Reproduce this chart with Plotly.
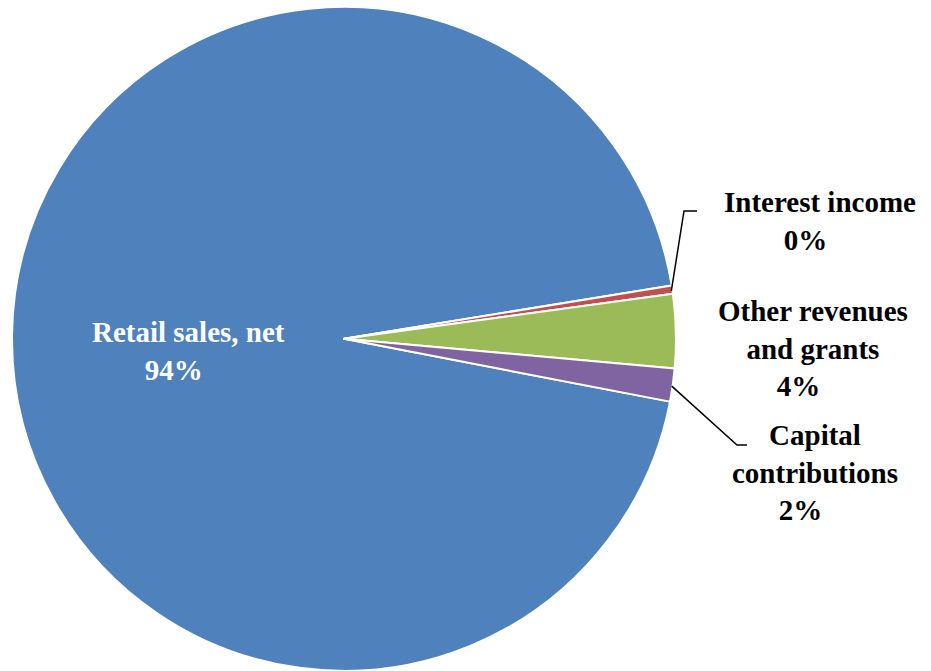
import math
import plotly.graph_objects as go

labels = ["Retail sales, net", "Interest income", "Other revenues and grants", "Capital contributions"]
label_text = ["Retail sales, net", "Interest income", "Other revenues<br>and grants", "Capital<br>contributions"]
values = [94.4, 0.4, 3.6, 1.6]
colors = ["#4F81BD", "#C0504D", "#9BBB59", "#8064A2"]

W, H = 931, 671
CX, CY, R = 344, 340, 331
ROT = 100.9  # start of first slice, degrees clockwise from 12 o'clock

fig = go.Figure(go.Pie(
    labels=labels, values=values, sort=False, direction="clockwise",
    rotation=ROT, marker=dict(colors=colors, line=dict(color="white", width=2)),
    textinfo="none", hoverinfo="label+percent", showlegend=False,
    domain=dict(x=[(CX - R - 1) / W, (CX + R + 1) / W], y=[0, 0.99]),
))

total = sum(values)
pcts = [round(v / total * 100) for v in values]

# label positions (pixels): center x, center y, text colour
label_pos = [(188, 351, "white"), (820, 221, "black"), (813, 348, "black"), (815, 472, "black")]
for i, (lx, ly, col) in enumerate(label_pos):
    fig.add_annotation(
        x=lx / W, y=1 - ly / H, xref="paper", yref="paper", showarrow=False,
        text=f"<b>{label_text[i]}<br>{pcts[i]}%\u00a0\u00a0\u00a0\u00a0</b>",
        font=dict(family="Liberation Serif", size=29, color=col),
        xanchor="center", yanchor="middle", align="center",
    )

# leader lines from slice mid-angles
def slice_mid(idx):
    cum = sum(values[:idx]) + values[idx] / 2
    a = math.radians(ROT + cum / total * 360)
    return CX + R * math.sin(a), CY - R * math.cos(a)

leaders = {1: [(684, 211), (697, 211)], 3: [(737, 445), (747, 445)]}
for idx, pts in leaders.items():
    sx, sy = slice_mid(idx)
    path_pts = [(sx, sy)] + pts
    d = "M " + " L ".join(f"{x / W:.5f},{1 - y / H:.5f}" for x, y in path_pts)
    fig.add_shape(type="path", path=d, xref="paper", yref="paper",
                  line=dict(color="black", width=1.5))

fig.update_layout(
    width=W, height=H, margin=dict(l=0, r=0, t=0, b=0),
    paper_bgcolor="white", plot_bgcolor="white",
)
fig.write_html("out.html")
